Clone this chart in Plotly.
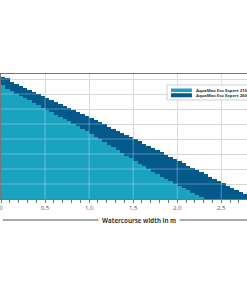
import plotly.graph_objects as go

# bar left edges (watercourse width in m), step 0.05 m
width_m = [0.00, 0.05, 0.10, 0.15, 0.20, 0.25, 0.30, 0.35, 0.40, 0.45,
           0.50, 0.55, 0.60, 0.65, 0.70, 0.75, 0.80, 0.85, 0.90, 0.95,
           1.00, 1.05, 1.10, 1.15, 1.20, 1.25, 1.30, 1.35, 1.40, 1.45,
           1.50, 1.55, 1.60, 1.65, 1.70, 1.75, 1.80, 1.85, 1.90, 1.95,
           2.00, 2.05, 2.10, 2.15, 2.20, 2.25, 2.30, 2.35, 2.40, 2.45,
           2.50, 2.55, 2.60, 2.65, 2.70, 2.75]

# AquaMax Eco Expert 26000 (dark)
series_26000 = [8.13, 8.10, 7.77, 7.64, 7.51, 7.38, 7.25, 7.11, 6.98, 6.85,
                6.71, 6.58, 6.45, 6.32, 6.19, 6.05, 5.92, 5.79, 5.66, 5.52,
                5.38, 5.24, 5.11, 4.97, 4.83, 4.70, 4.56, 4.42, 4.28, 4.14,
                3.99, 3.84, 3.69, 3.55, 3.40, 3.25, 3.11, 2.96, 2.81, 2.67,
                2.52, 2.37, 2.23, 2.08, 1.93, 1.79, 1.64, 1.49, 1.35, 1.20,
                1.05, 0.90, 0.76, 0.61, 0.46, 0.32]

# AquaMax Eco Expert 21000 (teal)
series_21000 = [7.57, 7.33, 7.18, 7.03, 6.87, 6.72, 6.57, 6.41, 6.25, 6.10,
                5.95, 5.79, 5.63, 5.48, 5.33, 5.17, 5.02, 4.87, 4.70, 4.52,
                4.34, 4.16, 3.98, 3.80, 3.62, 3.44, 3.26, 3.08, 2.90, 2.72,
                2.54, 2.36, 2.18, 2.00, 1.82, 1.64, 1.47, 1.32, 1.17, 1.02,
                0.87, 0.72, 0.57, 0.42, 0.27, 0.12]

tick_vals = [0, 0.5, 1.0, 1.5, 2.0, 2.5]
tick_text = ["0", "0,5", "1,0", "1,5", "2,0", "2,5"]
y_grid = [1, 2, 3, 4, 5, 6, 7, 8]
names = ["AquaMax Eco Expert 21000", "AquaMax Eco Expert 26000"]

TEAL = "#19a3c0"
DARK = "#03598a"

fig = go.Figure()
fig.add_trace(go.Bar(x=width_m, y=series_26000, width=0.05, offset=0,
                     marker=dict(color=DARK, line=dict(width=0)),
                     name=names[1], showlegend=False))
fig.add_trace(go.Bar(x=width_m[:len(series_21000)], y=series_21000, width=0.05, offset=0,
                     marker=dict(color=TEAL, line=dict(width=0)),
                     name=names[0], showlegend=False))

shapes = []
# grid overlay above bars (lighter lines over the filled area)
for v in y_grid:
    shapes.append(dict(type="line", xref="paper", yref="y", x0=0, x1=1, y0=v, y1=v,
                       line=dict(color="rgba(255,255,255,0.32)", width=1), layer="above"))
for v in tick_vals[1:]:
    shapes.append(dict(type="line", xref="x", yref="paper", x0=v, x1=v, y0=0, y1=1,
                       line=dict(color="rgba(255,255,255,0.32)", width=1), layer="above"))

# manual legend
shapes.append(dict(type="rect", xref="paper", yref="paper", x0=0.675, x1=1.3, y0=0.792, y1=0.912,
                   line=dict(color="#d0d0d0", width=1), fillcolor="white", layer="above"))
shapes.append(dict(type="rect", xref="paper", yref="paper", x0=0.691, x1=0.776, y0=0.856, y1=0.884,
                   line=dict(width=0), fillcolor=TEAL, layer="above"))
shapes.append(dict(type="rect", xref="paper", yref="paper", x0=0.691, x1=0.776, y0=0.814, y1=0.846,
                   line=dict(width=0), fillcolor=DARK, layer="above"))
# axis title rule
shapes.append(dict(type="line", xref="paper", yref="paper", x0=0.007, x1=1.2, y0=-0.168, y1=-0.168,
                   line=dict(color="#555555", width=1)))

annotations = [
    dict(text="<b>" + names[0] + "</b>", xref="paper", yref="paper", x=0.785, y=0.870,
         xanchor="left", yanchor="middle", showarrow=False,
         font=dict(family="Open Sans", size=4.2, color="#333333")),
    dict(text="<b>" + names[1] + "</b>", xref="paper", yref="paper", x=0.785, y=0.830,
         xanchor="left", yanchor="middle", showarrow=False,
         font=dict(family="Open Sans", size=4.2, color="#333333")),
    dict(text="<b>Watercourse width in m</b>", xref="paper", yref="paper", x=0.559, y=-0.168,
         xanchor="center", yanchor="middle", showarrow=False, bgcolor="white", borderpad=3,
         font=dict(family="Open Sans", size=6.2, color="#3a3a3a")),
]

fig.update_layout(
    width=247, height=296,
    margin=dict(l=1, r=0, t=74, b=97, autoexpand=False),
    paper_bgcolor="white", plot_bgcolor="white",
    barmode="overlay", bargap=0,
    showlegend=False,
    shapes=shapes, annotations=annotations,
    xaxis=dict(range=[0, 2.792], showline=True, linecolor="#777777", linewidth=1, mirror=True,
               tickvals=tick_vals, ticktext=tick_text, ticks="outside", ticklen=3,
               tickcolor="#777777", showgrid=True, gridcolor="#cfcfcf", gridwidth=1,
               zeroline=False, ticklabeloverflow="allow",
               tickfont=dict(family="Open Sans", size=6, color="#555555"),
               minor=dict(dtick=0.1, ticks="outside", ticklen=3, tickcolor="#777777", showgrid=False)),
    yaxis=dict(range=[0, 8.333], dtick=1, showline=True, linecolor="#777777", linewidth=1,
               ticks="outside", ticklen=4, tickcolor="#555555", showticklabels=False,
               showgrid=True, gridcolor="#cfcfcf", gridwidth=1, zeroline=False,
               minor=dict(dtick=0.5, ticks="outside", ticklen=3, tickcolor="#555555", showgrid=False)),
)

fig.write_html("out.html", config={"displayModeBar": False})
